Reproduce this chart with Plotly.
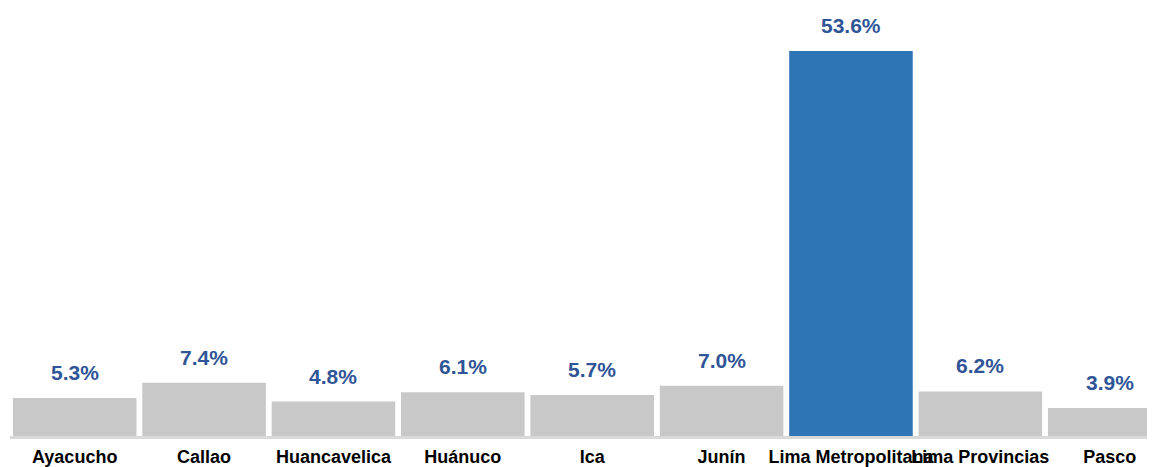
import plotly.graph_objects as go

regiones = ["Ayacucho", "Callao", "Huancavelica", "Huánuco", "Ica", "Junín",
            "Lima Metropolitana", "Lima Provincias", "Pasco"]
porcentajes = [5.3, 7.4, 4.8, 6.1, 5.7, 7.0, 53.6, 6.2, 3.9]
destacado = "Lima Metropolitana"

colores = ["#2E75B6" if r == destacado else "#C8C8C8" for r in regiones]
etiquetas = [f"{v:.1f}%" for v in porcentajes]

# no hay Arial Narrow: usamos Liberation Sans algo más pequeña
fuente = "Liberation Sans Narrow, Arial Narrow, Liberation Sans, Arial, sans-serif"

fig = go.Figure()
fig.add_trace(go.Bar(
    x=regiones, y=porcentajes,
    marker=dict(color=colores, line=dict(width=0)),
    hoverinfo="x+y",
))

for r, v, t in zip(regiones, porcentajes, etiquetas):
    fig.add_annotation(
        x=r, y=v, text=f"<b>{t}</b>", showarrow=False,
        yanchor="bottom", yshift=12,
        font=dict(family=fuente, size=21, color="#2F5597"),
    )

# la página tiene 8px de margen en el body, así que el gráfico es algo más chico
fig.update_layout(
    width=1147, height=459,
    margin=dict(l=2, r=0, t=2, b=31),
    paper_bgcolor="white", plot_bgcolor="white",
    bargap=0.045, showlegend=False,
    font=dict(family=fuente),
)
fig.update_xaxes(
    range=[-0.5, 8.35], showgrid=False, automargin=False,
    showline=True, linecolor="#D9D9D9", linewidth=3,
    tickangle=0,
    tickfont=dict(family=fuente, size=18, color="#000000"),
    ticks="outside", ticklen=2, tickcolor="rgba(0,0,0,0)",
    tickprefix="<b>", ticksuffix="</b>",
)
fig.update_yaxes(range=[0, 59.3], visible=False)

fig.write_html("out.html")
